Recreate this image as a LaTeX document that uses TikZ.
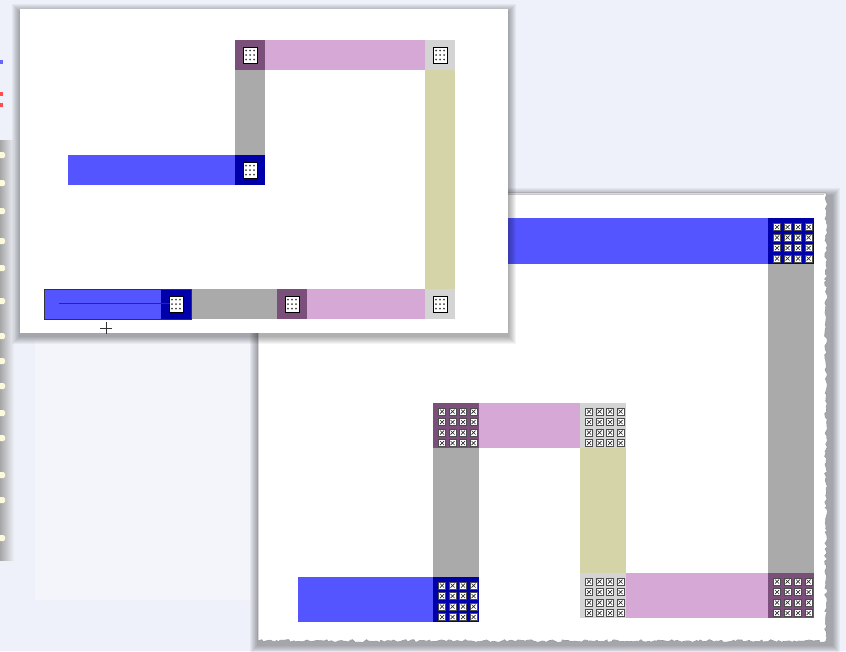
\documentclass[tikz,border=0pt]{standalone}
\usepackage{tikz}
\usetikzlibrary{decorations.pathmorphing}

\definecolor{deskbg}{RGB}{238,241,249}
\definecolor{barblue}{RGB}{85,85,255}
\definecolor{tileblue}{RGB}{0,0,170}
\definecolor{bargray}{RGB}{170,170,170}
\definecolor{barpink}{RGB}{214,168,214}
\definecolor{tilepurple}{RGB}{122,80,122}
\definecolor{tilelight}{RGB}{212,212,212}
\definecolor{barkhaki}{RGB}{212,212,168}
\definecolor{edgegray}{RGB}{150,150,150}

% soft shadow behind a window: x1 y1 x2 y2
\newcommand\softshadow[4]{%
  \foreach \k in {1,...,8}
    \fill[black, opacity=0.045] (#1-\k,#2-\k+3) rectangle (#3+\k,#4+\k+3);}

% 4x4 grid of small icons in a 45px tile
\newcommand\tilegrid[2]{%
  \foreach \i in {0,...,3}
    \foreach \j in {0,...,3} {
      \fill[white, draw=black!70, line width=0.4pt] (#1+5+10.5*\i,#2+5+10.5*\j) rectangle ++(7,7);
      \draw[black!85, line width=0.7pt] (#1+6.5+10.5*\i,#2+6.5+10.5*\j) -- ++(4,4)
        (#1+6.5+10.5*\i,#2+10.5+10.5*\j) -- ++(4,-4);
    }}

% single dotted icon in a 30px tile
\newcommand\tileicon[2]{%
  \fill[white, draw=black, line width=0.7pt] (#1+8,#2+7) rectangle ++(14,16);
  \foreach \i in {0,1,2}
    \foreach \j in {0,1,2}
      \fill[black!75] (#1+11+4*\i,#2+10.5+4.5*\j) circle (1);}

\begin{document}
\begin{tikzpicture}[x=1pt, y=-1pt,
  bar/.style={draw=none},
  bluebar/.style={bar, fill=barblue},
  bluetile/.style={bar, fill=tileblue},
  graybar/.style={bar, fill=bargray},
  pinkbar/.style={bar, fill=barpink},
  purpletile/.style={bar, fill=tilepurple},
  lighttile/.style={bar, fill=tilelight},
  khakibar/.style={bar, fill=barkhaki},
  sheet/.style={fill=white},
  dockicon/.style={fill=black!10!yellow!15!white, draw=none, rounded corners=1.5pt},
]
\useasboundingbox (0,0) rectangle (846,651);
% desktop
\fill[deskbg] (0,0) rectangle (846,651);
\fill[white, opacity=0.3] (35,340) rectangle (250,600);
\shade[left color=black!35, right color=deskbg] (0,140) rectangle (14,560);
\foreach \yy in {152,180,208,238,265,298,333,358,383,410,435,472,497,535}
  \fill[dockicon] (-2,\yy) rectangle ++(7,6);
\fill[blue!60] (0,60) rectangle (3,64);
\fill[red!70] (0,92) rectangle (3,96);
\fill[red!70] (0,103) rectangle (3,107);

% back window
\softshadow{258}{193}{832}{642}
\pgfmathsetseed{7}
\fill[sheet, draw=edgegray, line width=0.6pt, decoration={random steps, segment length=2.5pt, amplitude=1.4pt}]
  (258,193) -- (826,193)
  decorate { -- (826,641) -- (258,641) } -- cycle;
\draw[black!20, line width=1pt] (259.5,194.5) -- (824,194.5);
% back window drawing
\fill[bluebar]    (480,218) rectangle (768,264);
\fill[bluetile]   (768,218) rectangle (814,264);
\tilegrid{768.5}{218.5}
\fill[graybar]    (768,264) rectangle (814,573);
\fill[purpletile] (768,573) rectangle (814,618);
\tilegrid{768.5}{573}
\fill[pinkbar]    (626,573) rectangle (768,618);
\fill[lighttile]  (580,573) rectangle (626,618);
\tilegrid{580.5}{573}
\fill[khakibar]   (580,448) rectangle (626,573);
\fill[lighttile]  (580,403) rectangle (626,448);
\tilegrid{580.5}{403}
\fill[pinkbar]    (479,403) rectangle (580,448);
\fill[purpletile] (433,403) rectangle (479,448);
\tilegrid{433.5}{403}
\fill[graybar]    (433,448) rectangle (479,577);
\fill[bluetile]   (433,577) rectangle (479,622);
\tilegrid{433.5}{577}
\fill[bluebar]    (298,577) rectangle (433,622);

% front window
\softshadow{20}{9}{508}{333}
\fill[sheet] (20,9) rectangle (508,333);
% front window drawing
\fill[purpletile] (235,40) rectangle (265,70);
\tileicon{235}{40}
\fill[pinkbar]    (265,40) rectangle (425,70);
\fill[lighttile]  (425,40) rectangle (455,70);
\tileicon{425}{40}
\fill[khakibar]   (425,70) rectangle (455,289);
\fill[graybar]    (235,70) rectangle (265,155);
\fill[bluebar]    (68,155) rectangle (235,185);
\fill[bluetile]   (235,155) rectangle (265,185);
\tileicon{235}{155}
% bottom row
\fill[bluebar]    (44,289) rectangle (161,319);
\fill[bluetile]   (161,289) rectangle (191,319);
\tileicon{161}{289}
\fill[graybar]    (191,289) rectangle (277,319);
\fill[purpletile] (277,289) rectangle (307,319);
\tileicon{277}{289}
\fill[pinkbar]    (307,289) rectangle (425,319);
\fill[lighttile]  (425,289) rectangle (455,319);
\tileicon{425}{289}
\draw[black!80, line width=0.8pt] (44,289) rectangle (191,319);
\draw[black!80, line width=0.7pt] (59,303) -- (170,303);
% cursor
\draw[black!80, line width=0.6pt] (100,328) -- (112,328) (106,322) -- (106,334);
\end{tikzpicture}
\end{document}
